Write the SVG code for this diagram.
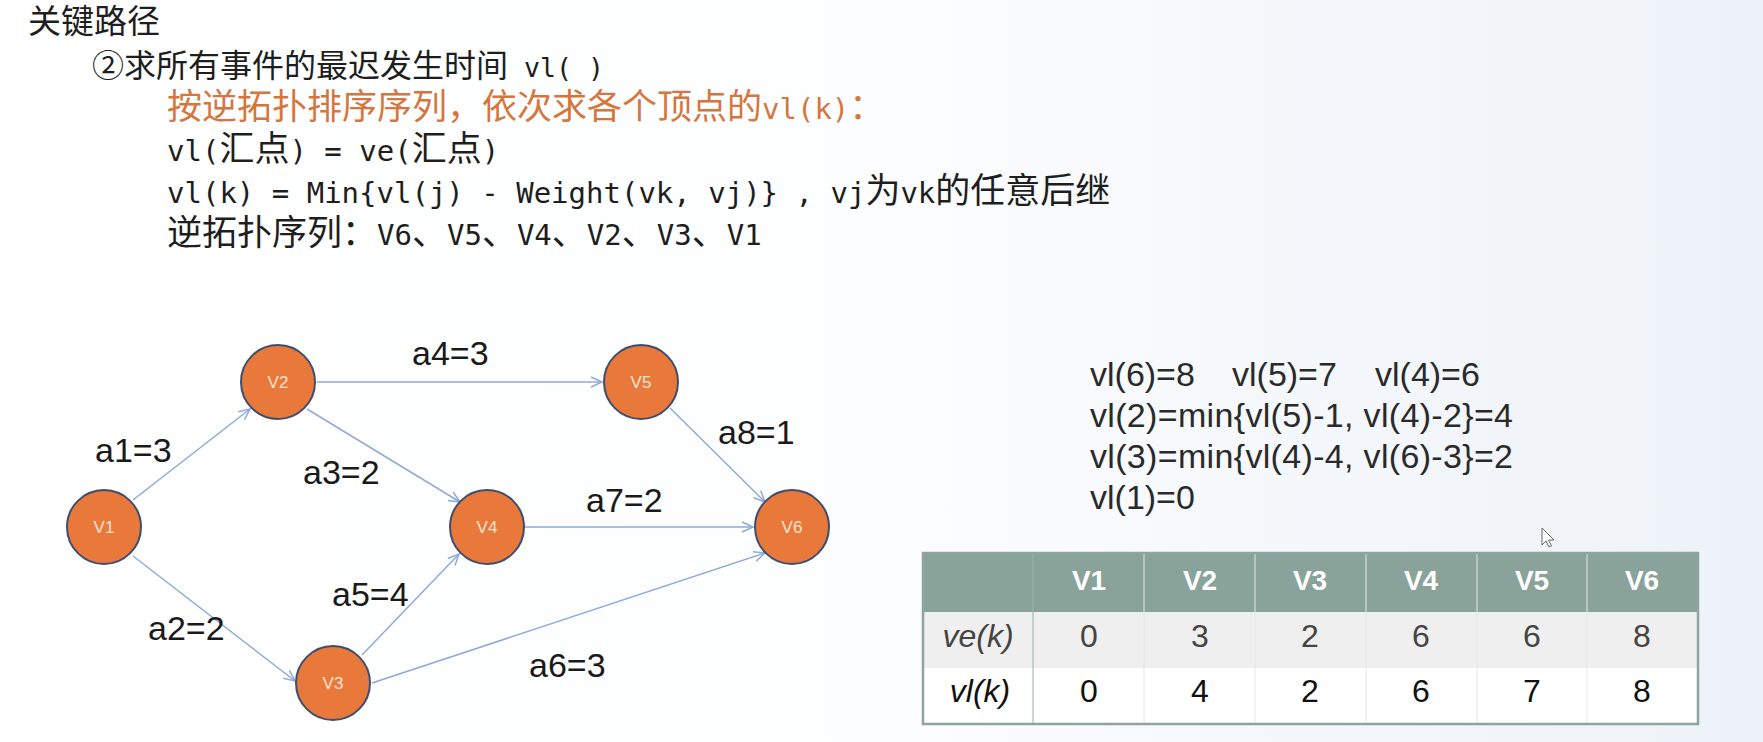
<svg xmlns="http://www.w3.org/2000/svg" width="1763" height="742" viewBox="0 0 1763 742">
<defs>
<linearGradient id="bg" x1="0" y1="0" x2="1" y2="0">
<stop offset="0" stop-color="#ffffff"/>
<stop offset="0.45" stop-color="#fdfeff"/>
<stop offset="1" stop-color="#edf2f8"/>
</linearGradient>
<marker id="arr" markerUnits="userSpaceOnUse" markerWidth="14" markerHeight="14" refX="12" refY="6" orient="auto">
<path d="M1,1 L12,6 L1,11" fill="none" stroke="#8ea9db" stroke-width="1.5"/>
</marker>
<style>
.m{font-family:"DejaVu Sans Mono","Liberation Mono",monospace;font-size:29px;fill:#1e1e1e}
.cj{font-family:"Noto Sans CJK SC","Noto Sans CJK JP",sans-serif;font-size:35px}
.or{fill:#d4763e}
.edge{stroke:#8ea9db;stroke-width:1.5;fill:none;marker-end:url(#arr)}
.node circle{fill:#e8793a;stroke:#3f4d6e;stroke-width:2}
.node text{font-family:"Liberation Sans",Arial,sans-serif;font-size:17px;fill:#f8e2d2;text-anchor:middle}
.lbl{font-family:"Liberation Sans",Arial,sans-serif;font-size:34px;fill:#1a1a1a}
.rt{font-family:"Liberation Sans",Arial,sans-serif;font-size:34px;fill:#2a2a2a}
.th{font-family:"Liberation Sans",Arial,sans-serif;font-size:28px;font-weight:bold;fill:#ffffff;text-anchor:middle}
.td{font-family:"Liberation Sans",Arial,sans-serif;font-size:32px;text-anchor:middle}
.sep{stroke:#e4e8e6;stroke-width:1}
</style>
</defs>
<rect x="0" y="0" width="1763" height="742" fill="url(#bg)"/>

<g id="header-text">
<text x="28" y="33" class="cj" style="font-size:33px" fill="#1e1e1e">关键路径</text>
<text x="92" y="77" class="m" style="font-size:26.6px"><tspan class="cj" style="font-size:32px">②求所有事件的最迟发生时间</tspan> vl( )</text>
<text x="167" y="119" class="m or"><tspan class="cj">按逆拓扑排序序列，依次求各个顶点的</tspan>vl(k)<tspan class="cj">：</tspan></text>
<text x="167" y="161" class="m">vl(<tspan class="cj">汇点</tspan>) = ve(<tspan class="cj">汇点</tspan>)</text>
<text x="167" y="203" class="m">vl(k) = Min{vl(j) - Weight(vk, vj)} , vj<tspan class="cj">为</tspan>vk<tspan class="cj">的任意后继</tspan></text>
<text x="167" y="245" class="m"><tspan class="cj">逆拓扑序列：</tspan>V6<tspan class="cj">、</tspan>V5<tspan class="cj">、</tspan>V4<tspan class="cj">、</tspan>V2<tspan class="cj">、</tspan>V3<tspan class="cj">、</tspan>V1</text>
</g>

<g id="edges">
<line class="edge" x1="133" y1="500" x2="250" y2="409"/>
<line class="edge" x1="133" y1="556" x2="295" y2="681"/>
<line class="edge" x1="307" y1="409" x2="460" y2="502"/>
<line class="edge" x1="362" y1="655" x2="459" y2="554"/>
<line class="edge" x1="317" y1="382" x2="602" y2="382"/>
<line class="edge" x1="372" y1="683" x2="765" y2="553"/>
<line class="edge" x1="525" y1="527" x2="753" y2="527"/>
<line class="edge" x1="670" y1="408" x2="765" y2="502"/>
</g>

<g id="edge-labels">
<text class="lbl" x="95" y="462">a1=3</text>
<text class="lbl" x="303" y="484">a3=2</text>
<text class="lbl" x="148" y="640">a2=2</text>
<text class="lbl" x="332" y="606">a5=4</text>
<text class="lbl" x="412" y="365">a4=3</text>
<text class="lbl" x="718" y="444">a8=1</text>
<text class="lbl" x="586" y="512">a7=2</text>
<text class="lbl" x="529" y="677">a6=3</text>
</g>

<g id="n1" class="node"><circle cx="104" cy="527" r="37"/><text x="104" y="533">V1</text></g>
<g id="n2" class="node"><circle cx="278" cy="382" r="37"/><text x="278" y="388">V2</text></g>
<g id="n3" class="node"><circle cx="333" cy="683" r="37"/><text x="333" y="689">V3</text></g>
<g id="n4" class="node"><circle cx="487" cy="527" r="37"/><text x="487" y="533">V4</text></g>
<g id="n5" class="node"><circle cx="641" cy="382" r="37"/><text x="641" y="388">V5</text></g>
<g id="n6" class="node"><circle cx="792" cy="527" r="37"/><text x="792" y="533">V6</text></g>

<g id="calc-text">
<text class="rt" x="1090" y="386">vl(6)=8</text>
<text class="rt" x="1232" y="386">vl(5)=7</text>
<text class="rt" x="1375" y="386">vl(4)=6</text>
<text class="rt" x="1090" y="427" textLength="423">vl(2)=min{vl(5)-1, vl(4)-2}=4</text>
<text class="rt" x="1090" y="468" textLength="423">vl(3)=min{vl(4)-4, vl(6)-3}=2</text>
<text class="rt" x="1090" y="509">vl(1)=0</text>
</g>

<g id="table">
<rect x="923" y="553" width="775" height="59" fill="#89a39b"/>
<rect x="923" y="612" width="775" height="56" fill="#efefef"/>
<rect x="923" y="668" width="775" height="56" fill="#ffffff"/>
<g class="sep">
<line x1="1033" y1="553" x2="1033" y2="724" stroke="#98b0a8"/>
<line x1="1144" y1="553" x2="1144" y2="724"/>
<line x1="1255" y1="553" x2="1255" y2="724"/>
<line x1="1366" y1="553" x2="1366" y2="724"/>
<line x1="1477" y1="553" x2="1477" y2="724"/>
<line x1="1587" y1="553" x2="1587" y2="724"/>
</g>
<rect x="923" y="553" width="775" height="171" fill="none" stroke="#8fa49d" stroke-width="2.5"/>
<text class="th" x="1089" y="590">V1</text>
<text class="th" x="1200" y="590">V2</text>
<text class="th" x="1310" y="590">V3</text>
<text class="th" x="1421" y="590">V4</text>
<text class="th" x="1532" y="590">V5</text>
<text class="th" x="1642" y="590">V6</text>
<g fill="#444444">
<text class="td" x="978" y="647" font-style="italic">ve(k)</text>
<text class="td" x="1089" y="647">0</text>
<text class="td" x="1200" y="647">3</text>
<text class="td" x="1310" y="647">2</text>
<text class="td" x="1421" y="647">6</text>
<text class="td" x="1532" y="647">6</text>
<text class="td" x="1642" y="647">8</text>
</g>
<g fill="#111111">
<text class="td" x="980" y="702" font-style="italic">vl(k)</text>
<text class="td" x="1089" y="702">0</text>
<text class="td" x="1200" y="702">4</text>
<text class="td" x="1310" y="702">2</text>
<text class="td" x="1421" y="702">6</text>
<text class="td" x="1532" y="702">7</text>
<text class="td" x="1642" y="702">8</text>
</g>
</g>

<path id="cursor" d="M1542,528 L1542,545 L1546,541 L1549,547 L1551.5,546 L1548.5,540 L1554,540 Z" fill="#ffffff" stroke="#666666" stroke-width="1"/>
</svg>
